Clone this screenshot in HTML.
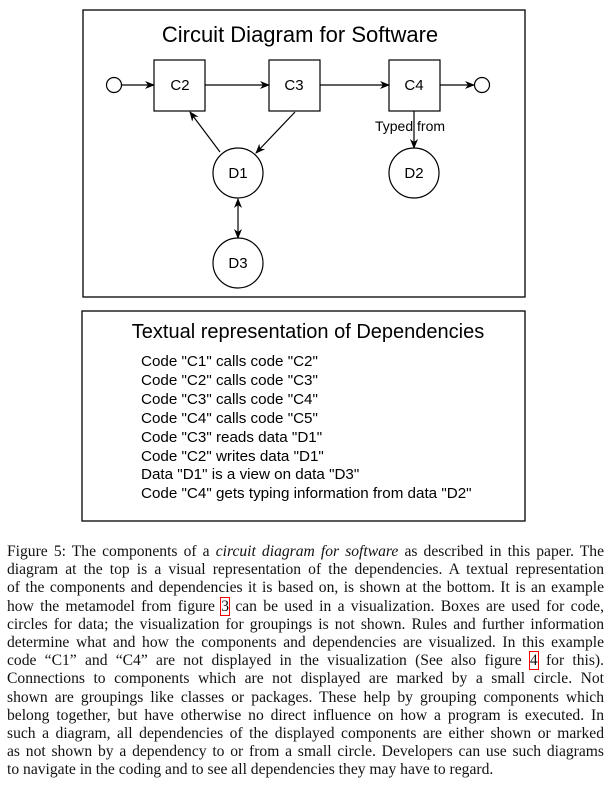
<!DOCTYPE html>
<html><head><style>
body{margin:0;width:612px;height:785px;background:#fff;position:relative;overflow:hidden}
.cap{position:absolute;left:7px;top:543px;width:597px;font-family:"Liberation Serif",serif;font-size:15.6px;line-height:18.2px;text-align:justify;color:#111}
.cap div{text-align:justify;text-align-last:justify;height:18.2px;white-space:nowrap}
.cap div.l{text-align-last:left}
.r{outline:1px solid red;outline-offset:0}
.tx{position:absolute;left:141px;top:353px;font-family:"Liberation Sans",sans-serif;font-size:15.2px;line-height:18.9px;color:#000}
</style></head><body>
<svg width="612" height="540" style="position:absolute;left:0;top:0" font-family="Liberation Sans, sans-serif">
<defs><marker id="a" markerWidth="10" markerHeight="10" refX="9" refY="5" orient="auto-start-reverse" markerUnits="userSpaceOnUse"><path d="M0,1 L10,5 L0,9 L3,5z" fill="#000"/></marker></defs>
<rect x="83" y="10" width="442" height="287" fill="none" stroke="#000" stroke-width="1.3"/>
<text x="300" y="42" font-size="22" text-anchor="middle">Circuit Diagram for Software</text>
<g fill="#fff" stroke="#000" stroke-width="1.2">
<circle cx="114" cy="85" r="7.5"/><circle cx="482" cy="85" r="7.5"/>
<rect x="154" y="60" width="51" height="51"/><rect x="269" y="60" width="51" height="51"/><rect x="389" y="60" width="51" height="51"/>
<circle cx="238" cy="173" r="25"/><circle cx="414" cy="173" r="25"/><circle cx="238" cy="263" r="25"/>
</g>
<g stroke="#000" stroke-width="1.2" marker-end="url(#a)">
<line x1="122" y1="85" x2="154" y2="85"/><line x1="205" y1="85" x2="269" y2="85"/><line x1="320" y1="85" x2="389" y2="85"/><line x1="440" y1="85" x2="474" y2="85"/>
<line x1="220" y1="152" x2="190" y2="112"/><line x1="295" y1="112" x2="256" y2="153"/>
<line x1="414" y1="111" x2="414" y2="148"/>
<line x1="238" y1="199" x2="238" y2="238" marker-start="url(#a)"/>
</g>
<g font-size="15" text-anchor="middle">
<text x="180" y="90">C2</text><text x="294" y="90">C3</text><text x="414" y="90">C4</text>
<text x="238" y="178">D1</text><text x="414" y="178">D2</text><text x="238" y="268">D3</text>
<text x="410" y="131" font-size="14">Typed from</text>
</g>
<rect x="82" y="311" width="443" height="210" fill="none" stroke="#000" stroke-width="1.3"/>
<text x="308" y="338" font-size="20" text-anchor="middle">Textual representation of Dependencies</text>
</svg>
<div class="tx">Code "C1" calls code "C2"<br>Code "C2" calls code "C3"<br>Code "C3" calls code "C4"<br>Code "C4" calls code "C5"<br>Code "C3" reads data "D1"<br>Code "C2" writes data "D1"<br>Data "D1" is a view on data "D3"<br>Code "C4" gets typing information from data "D2"</div>
<div class="cap">
<div>Figure 5: The components of a <i>circuit diagram for software</i> as described in this paper. The</div>
<div>diagram at the top is a visual representation of the dependencies. A textual representation</div>
<div>of the components and dependencies it is based on, is shown at the bottom. It is an example</div>
<div>how the metamodel from figure <span class="r">3</span> can be used in a visualization. Boxes are used for code,</div>
<div>circles for data; the visualization for groupings is not shown. Rules and further information</div>
<div>determine what and how the components and dependencies are visualized. In this example</div>
<div>code “C1” and “C4” are not displayed in the visualization (See also figure <span class="r">4</span> for this).</div>
<div>Connections to components which are not displayed are marked by a small circle. Not</div>
<div>shown are groupings like classes or packages. These help by grouping components which</div>
<div>belong together, but have otherwise no direct influence on how a program is executed. In</div>
<div>such a diagram, all dependencies of the displayed components are either shown or marked</div>
<div>as not shown by a dependency to or from a small circle. Developers can use such diagrams</div>
<div class="l">to navigate in the coding and to see all dependencies they may have to regard.</div>
</div>
</body></html>
